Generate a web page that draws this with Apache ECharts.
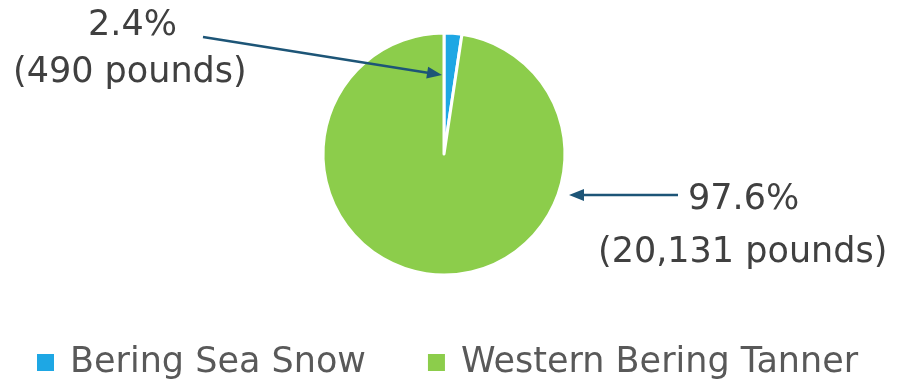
<!DOCTYPE html>
<html>
<head>
<meta charset="utf-8">
<script src="https://cdn.jsdelivr.net/npm/echarts@6/dist/echarts.min.js"></script>
<style>
  html, body { margin: 0; padding: 0; background: #fff; }
  #chart { width: 899px; height: 384px; }
</style>
</head>
<body>
<div id="chart"></div>
<script>
// 数据
const categories = ['Bering Sea Snow', 'Western Bering Tanner']
const pounds = [490, 20131]
const percents = [2.4, 97.6]
const colors = ['#1ea7e4', '#8ccd4b']

let chart = echarts.init(document.getElementById('chart'))

const txtColor = '#404040'
const arrowColor = '#1d5577'
const labelFont = '35px DejaVu Sans, sans-serif'

function fmt(n) {
  return n.toLocaleString('en-US')
}

// 箭头: 线 + 三角形
function arrow(x1, y1, x2, y2) {
  let ang = Math.atan2(y2 - y1, x2 - x1)
  let len = 15, hw = 6
  let bx = x2 - len * Math.cos(ang), by = y2 - len * Math.sin(ang)
  let nx = -Math.sin(ang) * hw, ny = Math.cos(ang) * hw
  return [
    { type: 'line', z: 100, shape: { x1: x1, y1: y1, x2: bx + 2 * Math.cos(ang), y2: by + 2 * Math.sin(ang) }, style: { stroke: arrowColor, lineWidth: 2.5 } },
    { type: 'polygon', z: 100, shape: { points: [[x2, y2], [bx + nx, by + ny], [bx - nx, by - ny]] }, style: { fill: arrowColor } }
  ]
}

function label(x, y, text) {
  return { type: 'text', z: 100, x: x, y: y, style: { text: text, font: labelFont, fill: txtColor, textAlign: 'left', textBaseline: 'middle' } }
}

let option = {
  animation: false,
  color: colors,
  legend: {
    top: 340,
    left: 30,
    icon: 'rect',
    itemWidth: 19,
    itemHeight: 19,
    itemGap: 60,
    textStyle: {
      fontSize: 35,
      color: '#595959',
      fontFamily: 'DejaVu Sans, sans-serif',
      padding: [0, 0, 0, 10]
    },
    data: categories
  },
  series: [{
    type: 'pie',
    center: [444, 154],
    radius: [0, 121],
    startAngle: 90,
    clockwise: true,
    z: 1,
    label: { show: false },
    labelLine: { show: false },
    itemStyle: { borderColor: '#fff', borderWidth: 3 },
    data: categories.map((c, i) => ({ name: c, value: pounds[i] }))
  }],
  graphic: {
    elements: [
      label(88, 8, percents[0] + '%'),
      label(13, 55, '(' + fmt(pounds[0]) + ' pounds)'),
      label(688, 182, percents[1] + '%'),
      label(598, 235, '(' + fmt(pounds[1]) + ' pounds)')
    ].concat(arrow(203, 37, 442, 75), arrow(678, 195, 569, 195))
  }
}

chart.setOption(option)
</script>
</body>
</html>
